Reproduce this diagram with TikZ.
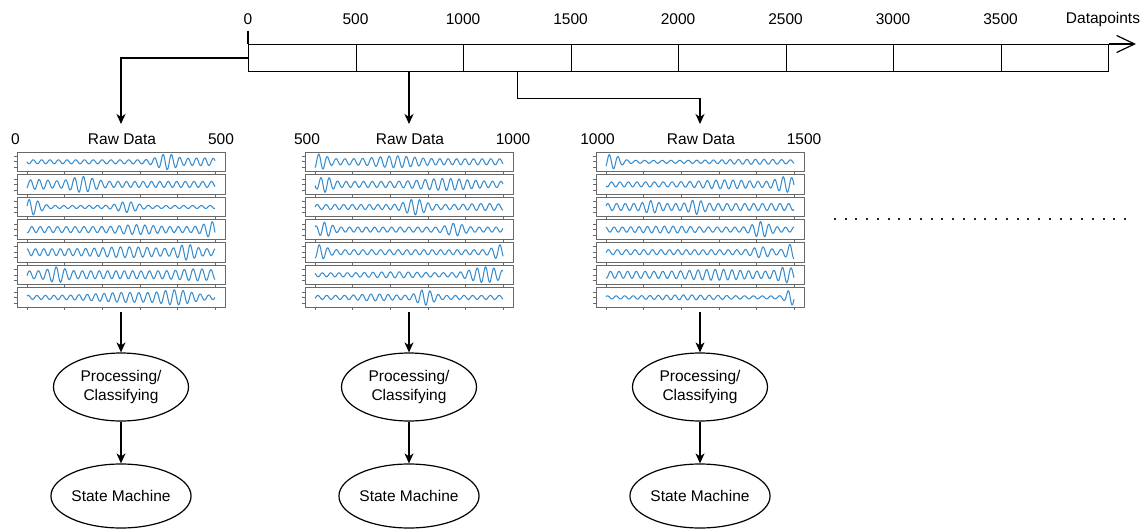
\documentclass[tikz,border=0pt]{standalone}
\usepackage{fontspec}
\setmainfont{Liberation Sans}
\usetikzlibrary{shapes.geometric,arrows.meta}
\definecolor{sigblue}{RGB}{55,140,205}
\definecolor{axgray}{RGB}{105,105,105}

\begin{document}
\begin{tikzpicture}[x=1pt,y=-1pt,
  lbl/.style={font=\fontsize{15.5}{18.5}\selectfont, inner sep=0pt},
  cell/.style={draw, line width=1.2pt, minimum width=107.5pt, minimum height=27pt,
               inner sep=0pt, anchor=north west},
  arr/.style={line width=1.2pt, -{Stealth[length=10pt,width=9pt,inset=3pt]}},
  frame/.style={draw=axgray, line width=0.9pt, minimum width=208pt,
                minimum height=19.6pt, inner sep=0pt},
  tickmark/.style={draw=axgray, line width=0.6pt},
  sig/.style={draw=sigblue, line width=1.05pt, line join=round},
  blob/.style={ellipse, draw, line width=1.2pt, minimum width=135pt,
               inner sep=0pt, align=center, font=\fontsize{15.5}{18.5}\selectfont},
]
\useasboundingbox (0,0) rectangle (1147,529);

% ---- time axis -------------------------------------------------------
\foreach \i in {1,...,8}
  \node[cell] (c\i) at ({248+107.5*(\i-1)},44) {};
\foreach \i/\t in {0/0,1/500,2/1000,3/1500,4/2000,5/2500,6/3000,7/3500}
  \node[lbl] (n\i) at ({248+107.5*\i},19) {\t};
\node[lbl] (dp) at (1103,19) {Datapoints};
\coordinate (axend) at (1136,44);
\draw[line width=1.2pt, -{Straight Barb[length=18pt,width=17pt]}] (c8.north east) -- (axend);
\coordinate (tk) at (248,31);
\draw[line width=1.2pt] (tk) -- (c1.north west);

% ---- windows taken from the axis --------------------------------------
\coordinate (t1) at (121,124);
\coordinate (t2) at (409,124);
\coordinate (t3) at (700,124);
\draw[arr] (c1.west) -| (t1);
\draw[arr] (c2.south -| t2) -- (t2);
\draw[arr] (c3.south) -- ++(0,26) -| (t3);

% ---- panel headings ---------------------------------------------------
\node[lbl] (r1) at (122,139.5) {Raw Data};
\node[lbl] (r2) at (410,139.5) {Raw Data};
\node[lbl] (r3) at (701,139.5) {Raw Data};
\node[lbl] (l1) at (15.5,139.5) {0};
\node[lbl] (h1) at (221,139.5) {500};
\node[lbl] (l2) at (307,139.5) {500};
\node[lbl] (h2) at (513,139.5) {1000};
\node[lbl] (l3) at (597.5,139.5) {1000};
\node[lbl] (h3) at (804,139.5) {1500};

% ---- signal strips ----------------------------------------------------
% panel/left/row/base amp/centre1/amp1/width1/centre2/amp2/width2/phase
\foreach \p/\lft/\r/\Ao/\Ci/\Ai/\Wi/\Cj/\Aj/\Wj/\Ph in {
  1/17/0/2/140/6/12/175/2/20/0,
  1/17/1/3/55/5/15/10/2/15/90,
  1/17/2/1.5/5/6.5/10/100/4/12/200,
  1/17/3/3/185/5/10/110/2/20/40,
  1/17/4/3.5/160/4.5/10/100/2/30/300,
  1/17/5/4/30/4/10/170/2/20/150,
  1/17/6/2/150/5/20/100/3/40/250,
  2/305/0/3/5/5/8/80/3/25/80,
  2/305/1/3/10/5/8/130/3/30/10,
  2/305/2/2.5/100/5.5/12/170/1/20/180,
  2/305/3/2.5/10/5/8/140/4/10/270,
  2/305/4/2.5/5/5/8/185/5/8/60,
  2/305/5/2/170/6/18/80/1/30/330,
  2/305/6/2/110/6/10/60/1.5/20/120,
  3/596/0/1.5/5/6/10/150/1/40/100,
  3/596/1/2.5/180/5.5/12/120/2/30/20,
  3/596/2/3.5/90/4/8/45/3/8/220,
  3/596/3/2.5/155/5.5/10/60/1/30/310,
  3/596/4/2.5/185/5.5/6/155/3/10/160,
  3/596/5/3.5/180/4.5/10/110/2/30/50,
  3/596/6/1.5/185/6.5/6/80/1/40/240}
{
  \pgfmathsetmacro\cy{161.8+22.6*\r}
  \node[frame] (s\p\r) at ({\lft+104},\cy) {};
  \foreach \k in {0,...,5}
    \draw[tickmark] ({\lft+10+37.6*\k},{\cy+9.8}) -- ++(0,3);
  \foreach \d in {-5.5,0,5.5}
    \draw[tickmark] (\lft,{\cy+\d}) -- ++(-3,0);
  \begin{scope}[shift={({\lft+10},\cy)}]
    \draw[sig] plot[domain=0:188,samples=260]
      (\x,{min(8,\Ao+\Ai*exp(max(-20,0-((\x-\Ci)/\Wi)^2))
                 +\Aj*exp(max(-20,0-((\x-\Cj)/\Wj)^2)))
           *sin(\x/8.6*360+\Ph+35*sin(2.3*\x+\Ph))});
  \end{scope}
}

% ---- processing chain -------------------------------------------------
\node[blob, minimum height=68pt] (pc1) at (121,387) {Processing/\\Classifying};
\node[blob, minimum height=68pt] (pc2) at (409,387) {Processing/\\Classifying};
\node[blob, minimum height=68pt] (pc3) at (700,387) {Processing/\\Classifying};
\node[blob, minimum height=64pt] (sm1) at (121,496) {State Machine};
\node[blob, minimum height=64pt] (sm2) at (409,496) {State Machine};
\node[blob, minimum height=64pt] (sm3) at (700,496) {State Machine};

\draw[arr, shorten <=4pt] (s16.south -| pc1) -- (pc1.north);
\draw[arr, shorten <=4pt] (s26.south -| pc2) -- (pc2.north);
\draw[arr, shorten <=4pt] (s36.south -| pc3) -- (pc3.north);
\draw[arr] (pc1.south) -- (sm1.north);
\draw[arr] (pc2.south) -- (sm2.north);
\draw[arr] (pc3.south) -- (sm3.north);

% ---- more windows follow: a row of square dots ------------------------
\foreach \k in {0,...,27} {
  \pgfmathsetmacro\dx{round(835+10.74*\k)}
  \fill[black!85] ({\dx-1.1},217.9) rectangle ++(2.2,2.2);
}
\end{tikzpicture}
\end{document}
